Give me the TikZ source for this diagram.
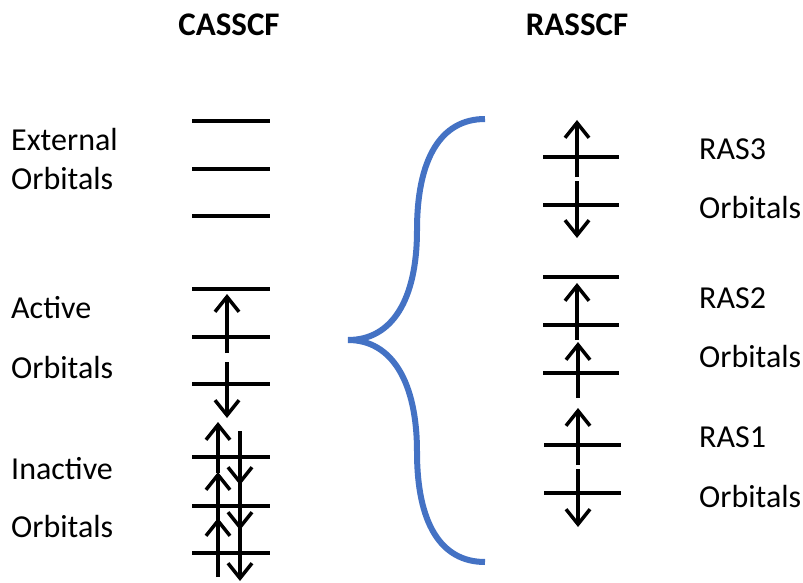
\documentclass[tikz,border=0pt]{standalone}
\usepackage{fontspec}
\setmainfont{Carlito}
\usetikzlibrary{arrows.meta}
\definecolor{brc}{HTML}{4472C4}
\tikzset{
  level/.style={line width=3.5pt, black},
  spin/.style={line width=3.5pt, black, -{Straight Barb[length=15pt,width=24pt]}},
  brace/.style={line width=6pt, brc},
  lbl/.style={anchor=base west, inner sep=0pt, font=\fontsize{32}{38}\selectfont},
  ttl/.style={anchor=base, inner sep=0pt, font=\bfseries\fontsize{33}{38}\selectfont},
}

\begin{document}
\begin{tikzpicture}[x=1pt,y=-1pt]
 \useasboundingbox (0,0) rectangle (803,583);
 % headings
 \node[ttl] (cas) at (229,36) {CASSCF};
 \node[ttl] (ras) at (577,36) {RASSCF};
 % CASSCF levels: external, active, inactive
 \foreach \y in {121,169,216,289,337,384,457,506,553}
   \draw[level] (192,\y) -- (270,\y);
 % RASSCF levels
 \foreach \y in {157,205,277,325,373}
   \draw[level] (543,\y) -- (619,\y);
 \foreach \y in {445,493}
   \draw[level] (544,\y) -- (621,\y);
 % electrons
 \foreach \x/\a/\b [count=\k] in {227/353/294, 227/362/418,
     218/473/422, 218/520/472, 218/577/518,
     240/431/485, 240/478/530, 240/525/581,
     577/177/120, 577/181/238, 577/340/283, 578/398/342,
     578/465/408, 578/469/527}{
   \coordinate (s\k) at (\x,\a);
   \coordinate (t\k) at (\x,\b);
   \draw[spin] (s\k) -- (t\k);
 }
 % the brace
 \draw[brace] (485,119) .. controls (440,119) and (417,160) .. (417,230)
   .. controls (417,300) and (392,340) .. (348,340)
   .. controls (392,340) and (417,382) .. (417,452)
   .. controls (417,522) and (440,562) .. (485,562);
 % labels
 \node[lbl] (ext)  at (11,150) {External};
 \node[lbl] (exto) at (11,189) {Orbitals};
 \node[lbl] (act)  at (11,318) {Active};
 \node[lbl] (acto) at (11,378) {Orbitals};
 \node[lbl] (ina)  at (11,479) {Inactive};
 \node[lbl] (inao) at (11,537) {Orbitals};
 \node[lbl] (r3)  at (699,160) {RAS3};
 \node[lbl] (r3o) at (699,218) {Orbitals};
 \node[lbl] (r2)  at (699,308) {RAS2};
 \node[lbl] (r2o) at (699,367) {Orbitals};
 \node[lbl] (r1)  at (699,447) {RAS1};
 \node[lbl] (r1o) at (699,507) {Orbitals};
\end{tikzpicture}
\end{document}
